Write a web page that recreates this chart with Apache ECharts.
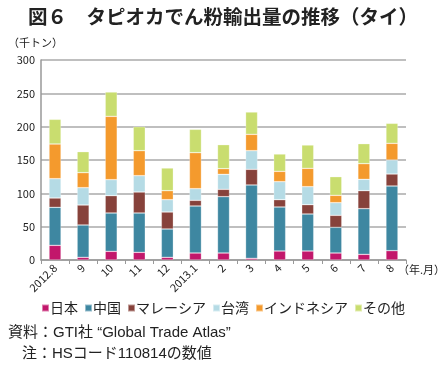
<!DOCTYPE html>
<html><head><meta charset="utf-8">
<script src="https://cdn.jsdelivr.net/npm/echarts@6/dist/echarts.min.js"></script>
<style>html,body{margin:0;padding:0;background:#fff}#c{width:446px;height:368px}</style>
</head><body><div id="c"></div>
<script>
var categories = ['2012.8','9','10','11','12','2013.1','2','3','4','5','6','7','8'];
var japan     = [22, 4, 13, 11.5, 4, 10.5, 10.5, 2.5, 13.5, 13.5, 10.5, 8.5, 14];
var china     = [57, 48.5, 57.5, 59, 42.5, 70.5, 84.5, 110, 66, 55.5, 38.5, 68.5, 97];
var malaysia  = [14, 30, 26, 31.5, 25.5, 8.5, 11, 23.5, 11, 14, 18, 27, 18];
var taiwan    = [29, 26, 24, 24.5, 18.5, 17.5, 22.5, 28, 27, 27, 19, 17, 21];
var indonesia = [52, 22.5, 95, 37.5, 13.5, 54, 8.5, 24.5, 15.5, 27.5, 11, 23.5, 25];
var other     = [37, 31.5, 36.5, 36, 34, 35, 36, 33.5, 26, 35, 28, 30, 30];
var seriesNames = ['日本','中国','マレーシア','台湾','インドネシア','その他'];
var colors = ['#c2176b','#3e87a1','#87423b','#b5dbe5','#f49a2d','#c9dd6f'];
var yTicks = [0, 50, 100, 150, 200, 250, 300];

var FONT = '"Noto Sans CJK JP", "Noto Sans", sans-serif';
var FONT2 = '"Liberation Sans", "Noto Sans CJK JP", sans-serif';
var values = [japan, china, malaysia, taiwan, indonesia, other];
var chart = echarts.init(document.getElementById('c'));
chart.setOption({
  animation: false,
  color: colors,
  textStyle: {fontFamily: FONT},
  title: {
    text: '図６　タピオカでん粉輸出量の推移（タイ）',
    left: 'center', top: 2,
    textStyle: {fontSize: 19.5, fontWeight: 'bold', color: '#222', fontFamily: FONT}
  },
  grid: {left: 41, right: 40, top: 60, bottom: 108},
  legend: {
    data: seriesNames,
    left: 36, top: 296,
    icon: 'rect', itemWidth: 7, itemHeight: 7, itemGap: 6,
    textStyle: {fontSize: 14, color: '#222', padding: [0,0,0,-4]}
  },
  xAxis: {
    type: 'category', data: categories,
    axisLine: {lineStyle: {color: '#999', width: 1.5}},
    axisTick: {show: true, length: 4, lineStyle: {color: '#999'}},
    axisLabel: {rotate: 45, fontSize: 11, color: '#222', margin: 6, interval: 0}
  },
  yAxis: {
    type: 'value', min: yTicks[0], max: yTicks[yTicks.length-1], interval: 50,
    axisLine: {show: true, lineStyle: {color: '#999', width: 1.5}},
    axisTick: {show: false},
    axisLabel: {fontSize: 11, color: '#222', margin: 6},
    splitLine: {lineStyle: {color: '#aaa', width: 1.5}}
  },
  graphic: [
    {type: 'text', left: 8, top: 37, style: {text: '（千トン）', font: '11px ' + FONT, fill: '#222'}},
    {type: 'text', left: 398, top: 264, style: {text: '（年.月）', font: '11px ' + FONT, fill: '#222'}},
    {type: 'text', left: 8, top: 325, style: {text: '資料：GTI社 “Global Trade Atlas”', font: '15px ' + FONT2, fill: '#222'}},
    {type: 'text', left: 22, top: 346, style: {text: '注：HSコード110814の数値', font: '15px ' + FONT2, fill: '#222'}}
  ],
  series: seriesNames.map(function(n, i){
    return {
      name: n, type: 'bar', stack: 'total', barWidth: 12,
      data: values[i],
      itemStyle: {borderColor: 'rgba(255,255,255,0.45)', borderWidth: 0.6}
    };
  })
});
</script></body></html>
